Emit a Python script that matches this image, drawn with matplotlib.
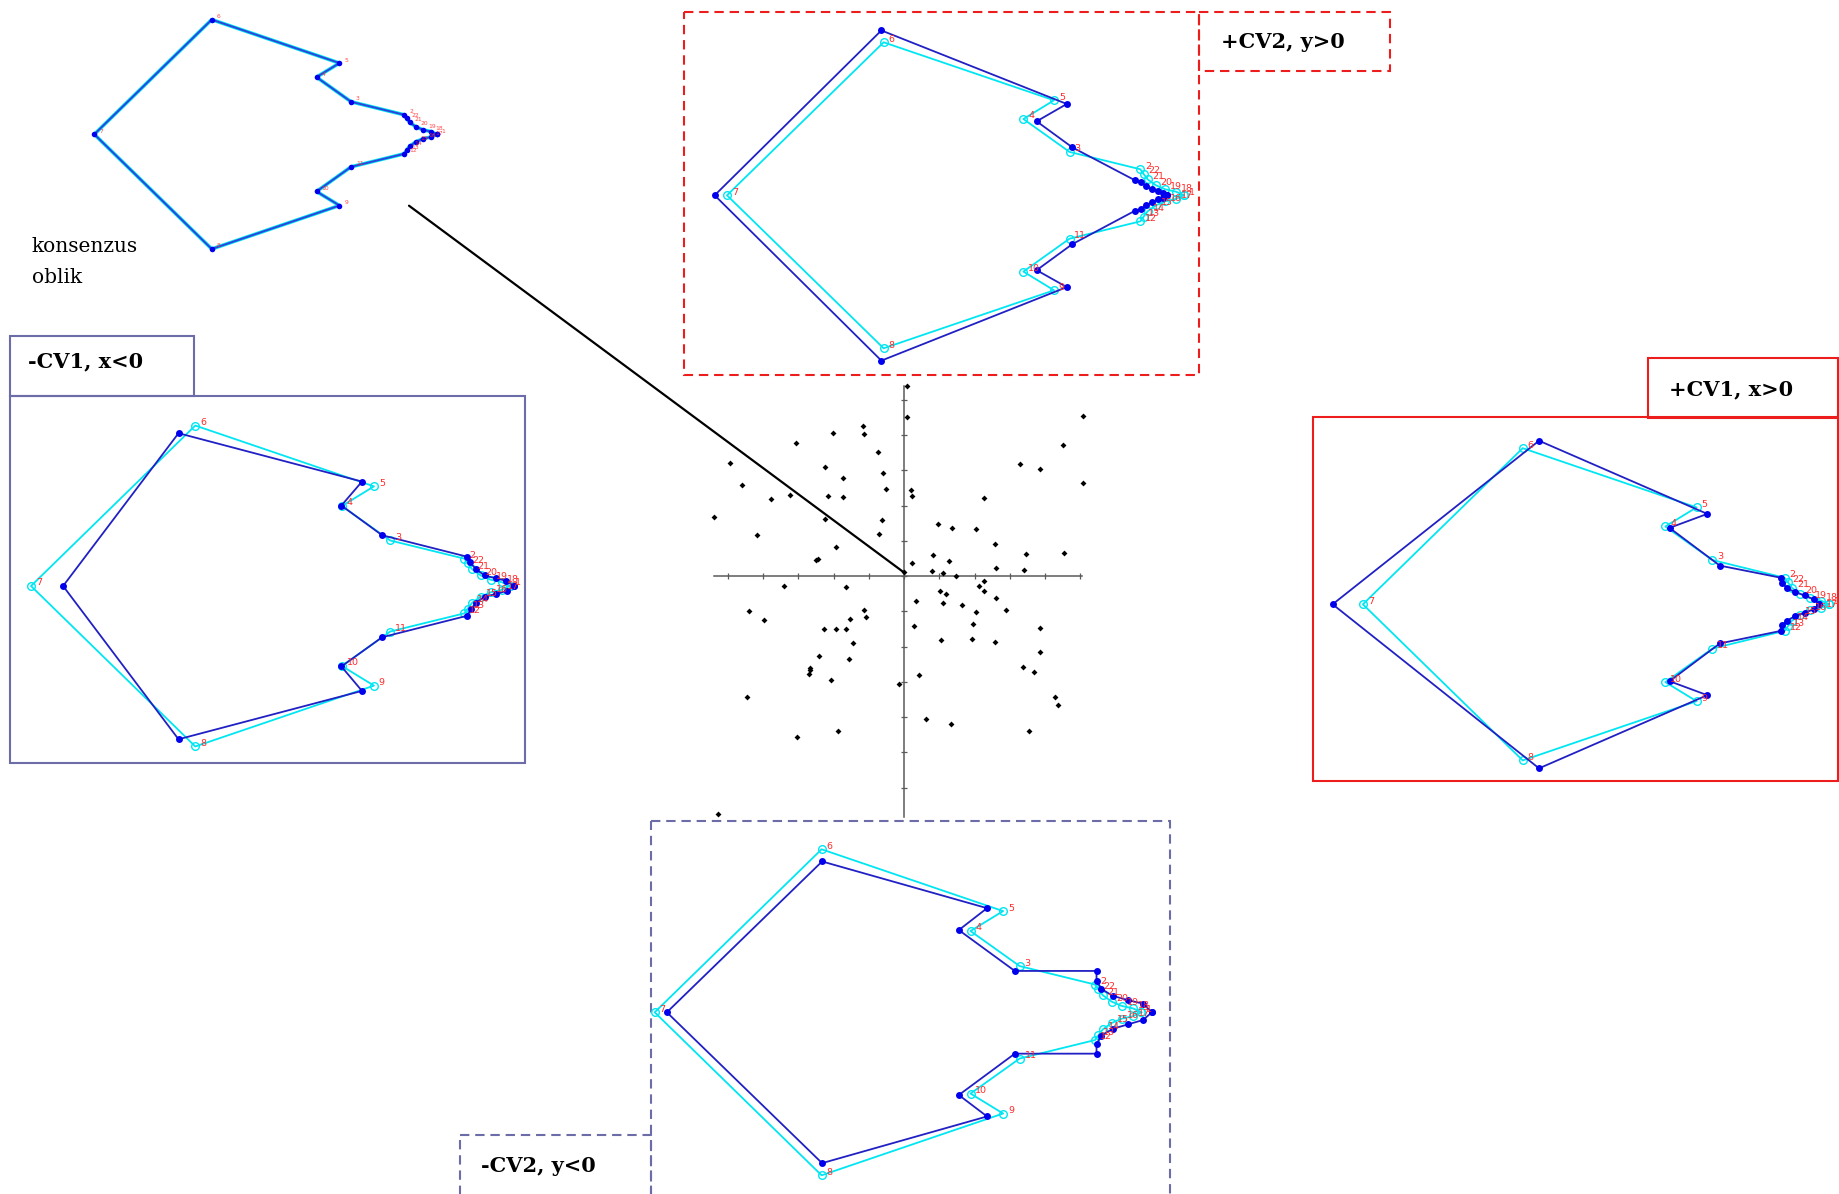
import matplotlib
matplotlib.use("Agg")
import matplotlib.pyplot as plt
from matplotlib.patches import Rectangle, ConnectionPatch
import numpy as np

# ---------------- data ----------------
LANDMARKS = list(range(1, 23))
OUTLINE = [1, 18, 19, 20, 21, 22, 2, 3, 4, 5, 6, 7, 8, 9, 10, 11, 12, 13, 14, 15, 16, 17, 1]

# consensus shape (landmarks 1..22)
CONS_X = [1.000, 0.905, 0.750, 0.649, 0.716, 0.343, 0.000, 0.343, 0.716, 0.649, 0.750,
          0.905, 0.912, 0.921, 0.939, 0.960, 0.983, 0.983, 0.960, 0.939, 0.921, 0.912]
CONS_Y = [0.000, 0.057, 0.095, 0.167, 0.208, 0.335, 0.000, -0.335, -0.208, -0.167, -0.095,
          -0.057, -0.047, -0.035, -0.022, -0.013, -0.008, 0.008, 0.013, 0.022, 0.035, 0.047]

# shape at negative CV1
NEG_CV1_X = [1.008, 0.911, 0.733, 0.648, 0.691, 0.308, 0.067, 0.308, 0.691, 0.648, 0.733,
             0.911, 0.918, 0.929, 0.947, 0.970, 0.994, 0.992, 0.970, 0.947, 0.929, 0.916]
NEG_CV1_Y = [0.000, 0.061, 0.106, 0.168, 0.218, 0.319, 0.000, -0.320, -0.219, -0.168, -0.107,
             -0.062, -0.049, -0.035, -0.022, -0.017, -0.010, 0.011, 0.016, 0.022, 0.035, 0.050]
# shape at positive CV1
POS_CV1_X = [0.979, 0.897, 0.766, 0.658, 0.739, 0.378, -0.065, 0.378, 0.739, 0.658, 0.766,
             0.897, 0.900, 0.911, 0.928, 0.948, 0.967, 0.967, 0.948, 0.928, 0.911, 0.900]
POS_CV1_Y = [0.000, 0.057, 0.083, 0.164, 0.194, 0.351, 0.000, -0.352, -0.195, -0.165, -0.084,
             -0.057, -0.044, -0.035, -0.025, -0.018, -0.011, 0.011, 0.019, 0.026, 0.034, 0.045]
# shape at positive CV2
POS_CV2_X = [0.964, 0.893, 0.756, 0.678, 0.744, 0.338, -0.027, 0.338, 0.744, 0.678, 0.756,
             0.893, 0.906, 0.918, 0.931, 0.944, 0.955, 0.955, 0.944, 0.931, 0.918, 0.906]
POS_CV2_Y = [0.000, 0.033, 0.105, 0.162, 0.200, 0.361, 0.000, -0.362, -0.201, -0.164, -0.107,
             -0.034, -0.030, -0.022, -0.015, -0.009, -0.006, 0.004, 0.009, 0.014, 0.020, 0.029]
# shape at negative CV2
NEG_CV2_X = [1.022, 0.908, 0.740, 0.625, 0.683, 0.344, 0.025, 0.344, 0.683, 0.625, 0.740,
             0.908, 0.908, 0.918, 0.941, 0.972, 1.003, 1.003, 0.972, 0.941, 0.918, 0.908]
NEG_CV2_Y = [0.000, 0.085, 0.085, 0.169, 0.214, 0.310, 0.000, -0.310, -0.214, -0.170, -0.085,
             -0.085, -0.065, -0.048, -0.034, -0.025, -0.016, 0.018, 0.025, 0.034, 0.048, 0.065]

# CV scores (scatter)
SCORE_X = [0.09, 0.09, 5.08, 4.51, 5.08, 3.30, 3.85, 2.27, 0.21, 0.24,
           -1.16, -1.13, -2.01, -3.05, -0.74, -0.60, -0.51, -2.24, -1.73, -2.15,
           -1.73, -4.95, -4.59, -3.77, -3.24, -5.40, -4.17, -2.24, -0.62, -0.72,
           -1.94, -2.49, -2.44, 0.22, 0.00, 0.97, 1.35, 2.04, 2.59, 0.83,
           1.28, 0.80, 1.12, 1.48, 2.61, 3.40, 3.47, 4.53, -3.41, -1.64,
           -4.40, -3.97, -1.14, -1.07, -1.52, -2.27, -1.93, -1.64, -1.46, -2.41,
           -1.57, -2.67, -2.67, -2.69, -2.07, -0.13, -4.45, -3.03, -1.88, -5.27,
           0.34, 0.27, 1.01, 1.20, 1.12, 1.65, 2.14, 2.28, 2.26, 2.61,
           2.88, 2.04, 1.96, 1.06, 1.93, 2.59, 3.85, 3.85, 3.38, 3.70,
           0.43, 4.28, 4.36, 0.61, 1.33, 3.54]
SCORE_Y = [5.40, 4.51, 4.55, 3.71, 2.63, 3.18, 3.03, 2.21, 2.45, 2.28,
           4.26, 4.02, 4.06, 3.77, 3.51, 2.93, 2.47, 3.08, 2.78, 2.26,
           2.23, 3.21, 2.59, 2.19, 2.29, 1.66, 1.17, 1.62, 1.58, 1.19,
           0.82, 0.45, 0.49, 0.36, 0.11, 1.47, 1.37, 1.33, 0.91, 0.59,
           0.42, 0.15, 0.09, -0.01, 0.24, 0.17, 0.62, 0.64, -0.27, -0.30,
           -0.99, -1.25, -0.96, -1.17, -1.21, -1.49, -1.49, -1.49, -1.89, -2.27,
           -2.35, -2.62, -2.66, -2.77, -2.94, -3.06, -3.43, -4.58, -4.39, -6.76,
           -0.72, -1.42, -0.43, -0.52, -0.76, -0.81, -0.27, -0.13, -0.43, -0.62,
           -0.97, -1.01, -1.36, -1.82, -1.80, -1.86, -1.47, -2.17, -2.59, -2.72,
           -2.82, -3.42, -3.65, -4.07, -4.21, -4.41]
X_TICKS = list(range(-5, 6))
Y_TICKS = list(range(-6, 6))

PANEL_TITLES = ["-CV1, x<0", "+CV1, x>0", "+CV2, y>0", "-CV2, y<0"]
CONS_TEXT = ["konsenzus", "oblik"]

# ---------------- style ----------------
CYAN = "#00e6f2"
BLUE_LINE = "#2020c4"
BLUE_DOT = "#0000ee"
LAB_RED = "#ff2a2a"
RED = "#ee1d1d"
SLATE = "#6c6ca8"
SERIF = "DejaVu Serif"

W_PX, H_PX = 1839, 1194
fig = plt.figure(figsize=(W_PX / 100, H_PX / 100), dpi=100)
fig.patch.set_facecolor("white")

bg = fig.add_axes([0, 0, 1, 1])
bg.set_xlim(0, W_PX)
bg.set_ylim(H_PX, 0)
bg.axis("off")


def px_axes(x0, y0, x1, y1):
    ax = fig.add_axes([x0 / W_PX, 1 - y1 / H_PX, (x1 - x0) / W_PX, (y1 - y0) / H_PX])
    ax.patch.set_alpha(0)
    return ax


def ordered(vals):
    return [vals[i - 1] for i in OUTLINE]


def shape_panel(box, x7, y7, w, tx, ty, lab_fs=6.8, ms_c=5.5, ms_b=5, lw=1.3, consensus=False):
    ax = px_axes(*box)
    ax.set_xlim((box[0] - x7) / w, (box[2] - x7) / w)
    ax.set_ylim((y7 - box[3]) / w, (y7 - box[1]) / w)
    ax.axis("off")
    cx, cy = ordered(CONS_X), ordered(CONS_Y)
    bx, by = ordered(tx), ordered(ty)
    if consensus:
        ax.plot(cx, cy, "-", color=CYAN, lw=2.6, clip_on=False, zorder=2)
        ax.plot(bx, by, "-", color="#2b45dc", lw=1.4, clip_on=False, zorder=3)
        ax.plot(bx, by, "o", color=BLUE_DOT, ms=ms_b, mew=0, clip_on=False, zorder=4)
    else:
        ax.plot(cx, cy, "-", color=CYAN, lw=lw, clip_on=False, zorder=2)
        ax.plot(cx, cy, "o", mfc="none", mec=CYAN, mew=1.0, ms=ms_c, clip_on=False, zorder=2)
        ax.plot(bx, by, "-", color=BLUE_LINE, lw=lw, clip_on=False, zorder=3)
        ax.plot(bx, by, "o", color=BLUE_DOT, ms=ms_b, mew=0, clip_on=False, zorder=4)
    for i, lm in enumerate(LANDMARKS):
        ax.annotate(str(lm), (CONS_X[i], CONS_Y[i]), xytext=(3.5, 2.2), textcoords="offset points",
                    fontsize=lab_fs, color=LAB_RED, ha="left", va="center", zorder=5,
                    annotation_clip=False, alpha=0.85 if consensus else 1.0)
    return ax


# ---------------- boxes ----------------
def box(x0, y0, x1, y1, color, dashed):
    ls = (0, (4.5, 2.8)) if dashed else "-"
    bg.add_patch(Rectangle((x0, y0), x1 - x0, y1 - y0, fill=False, ec=color, lw=1.5, ls=ls,
                           clip_on=False))


box(9.7, 396, 525, 763, SLATE, False)
box(9.7, 336, 194, 396, SLATE, False)
box(1313, 417, 1838, 781, RED, False)
box(1648, 358, 1838, 418, RED, False)
box(684, 12, 1199, 375, RED, True)
box(1199, 12, 1390, 71, RED, True)
box(651.5, 821, 1170, 1215, SLATE, True)
box(460.5, 1135, 651.5, 1215, SLATE, True)

tkw = dict(family=SERIF, fontweight="bold", fontsize=15, va="baseline", ha="left", color="black")
bg.text(28.3, 367.7, PANEL_TITLES[0], **tkw)
bg.text(1669.5, 395, PANEL_TITLES[1], **tkw)
bg.text(1220.7, 48, PANEL_TITLES[2], **tkw)
bg.text(481.2, 1171.7, PANEL_TITLES[3], **tkw)

bg.text(31.7, 252.3, CONS_TEXT[0], family=SERIF, fontsize=14.5, va="baseline", ha="left")
bg.text(31.7, 283.3, CONS_TEXT[1], family=SERIF, fontsize=14.5, va="baseline", ha="left")

# ---------------- shape panels ----------------
cons_ax = shape_panel((60, 0, 470, 270), 94.3, 134.3, 342.4, CONS_X, CONS_Y,
                      lab_fs=4.3, ms_b=4, consensus=True)
shape_panel((9.7, 396, 525, 763), 31.0, 586.0, 479.0, NEG_CV1_X, NEG_CV1_Y)
shape_panel((1313, 417, 1838, 781), 1362.9, 604.3, 466.0, POS_CV1_X, POS_CV1_Y)
shape_panel((684, 12, 1199, 375), 727.0, 195.3, 456.7, POS_CV2_X, POS_CV2_Y)
shape_panel((651.5, 821, 1170, 1192), 654.7, 1012.3, 486.6, NEG_CV2_X, NEG_CV2_Y)

# ---------------- scatter ----------------
ORX, ORY, UNIT = 904.0, 576.0, 35.25
SB = (690, 380, 1110, 832)
sc = px_axes(*SB)
sc.set_xlim((SB[0] - ORX) / UNIT, (SB[2] - ORX) / UNIT)
sc.set_ylim((ORY - SB[3]) / UNIT, (ORY - SB[1]) / UNIT)
for s in ["top", "right"]:
    sc.spines[s].set_visible(False)
sc.spines["left"].set_position(("data", 0))
sc.spines["bottom"].set_position(("data", 0))
sc.spines["bottom"].set_bounds(-5.39, 5.05)
sc.spines["left"].set_bounds(-6.84, 5.39)
for s in ["left", "bottom"]:
    sc.spines[s].set_color("#5a5a5a")
    sc.spines[s].set_linewidth(1.1)
sc.set_xticks(X_TICKS)
sc.set_yticks(Y_TICKS)
sc.tick_params(direction="inout", length=5, width=0.9, colors="#5a5a5a",
               labelbottom=False, labelleft=False)
sc.scatter(SCORE_X, SCORE_Y, marker="D", s=9, c="black", linewidths=0, zorder=3, clip_on=False)

con = ConnectionPatch(xyA=(409, 205.7), coordsA=bg.transData, xyB=(0.0, 0.1), coordsB=sc.transData,
                      color="black", lw=1.6)
fig.add_artist(con)

fig.savefig("out.png", dpi=100, facecolor="white")
